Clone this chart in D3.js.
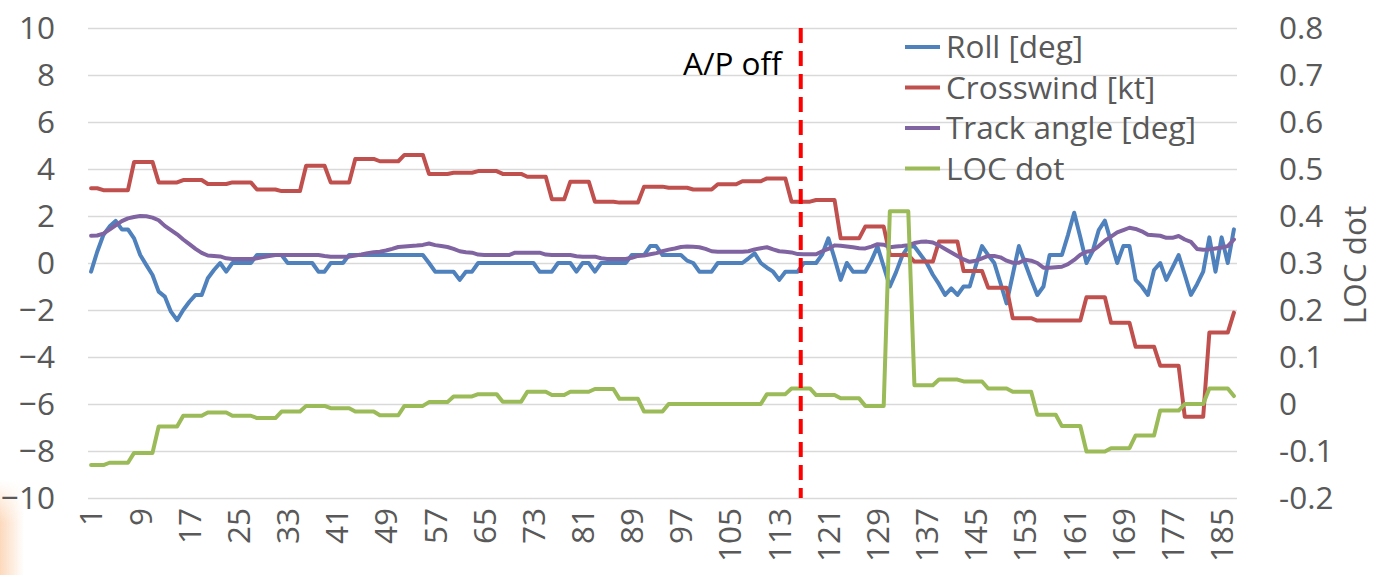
<!DOCTYPE html>
<html>
<head>
<meta charset="utf-8">
<script src="https://cdn.jsdelivr.net/npm/d3@7"></script>
<style>
  body { margin: 0; background: #fff; }
  svg { display: block; }
  text { font-family: "Open Sans", "Liberation Sans", sans-serif; }
</style>
</head>
<body>
<svg id="chart" width="1374" height="575"></svg>
<script>
// Roll angle [deg], one value per sample
const roll = [
  -0.37, 0.48, 1.19, 1.55, 1.79, 1.43, 1.43, 1.05, 0.34, -0.09,
  -0.51, -1.22, -1.43, -2.07, -2.43, -2.0, -1.65, -1.36, -1.36, -0.65,
  -0.3, 0, -0.37, 0, 0, 0, 0, 0.34, 0.34, 0.34,
  0.34, 0.34, 0, 0, 0, 0, 0, -0.37, -0.37, 0,
  0, 0, 0.34, 0.34, 0.34, 0.34, 0.34, 0.34, 0.34, 0.34,
  0.34, 0.34, 0.34, 0.34, 0.34, 0, -0.37, -0.37, -0.37, -0.37,
  -0.72, -0.37, -0.37, 0, 0, 0, 0, 0, 0, 0,
  0, 0, 0, -0.37, -0.37, -0.37, 0, 0, 0, -0.37,
  0, 0, -0.37, 0, 0, 0, 0, 0, 0.34, 0.34,
  0.34, 0.72, 0.72, 0.34, 0.34, 0.34, 0.34, 0.1, 0, -0.37,
  -0.37, -0.37, 0, 0, 0, 0, 0, 0.2, 0.41, 0,
  -0.2, -0.37, -0.72, -0.37, -0.37, -0.37, 0, 0, 0, 0.37,
  1.05, 0.2, -0.72, 0, -0.37, -0.37, -0.37, 0.1, 0.7, -0.15,
  -1.0, -0.4, 0.3, 0.7, 0.7, 0.35, 0, -0.5, -0.9, -1.36,
  -1.08, -1.36, -1.0, -1.0, -0.1, 0.72, 0.34, 0, -0.85, -1.72,
  -0.5, 0.72, 0, -0.7, -1.36, -1.0, 0.34, 0.34, 0.34, 1.2,
  2.14, 1.1, 0, 0.5, 1.4, 1.8, 0.9, 0, 0.72, 0.72,
  -0.72, -1.0, -1.36, -0.3, 0, -0.72, -0.2, 0.34, -0.5, -1.36,
  -0.9, -0.37, 1.09, -0.37, 1.09, 0, 1.43
];

// Crosswind [kt]
const crosswind = [
  3.18, 3.18, 3.1, 3.1, 3.1, 3.1, 3.1, 4.3, 4.3, 4.3,
  4.3, 3.43, 3.43, 3.43, 3.43, 3.53, 3.53, 3.53, 3.53, 3.36,
  3.36, 3.36, 3.36, 3.43, 3.43, 3.43, 3.43, 3.13, 3.13, 3.13,
  3.13, 3.06, 3.06, 3.06, 3.06, 4.14, 4.14, 4.14, 4.14, 3.43,
  3.43, 3.43, 3.43, 4.43, 4.43, 4.43, 4.43, 4.33, 4.33, 4.33,
  4.33, 4.6, 4.6, 4.6, 4.6, 3.79, 3.79, 3.79, 3.79, 3.84,
  3.84, 3.84, 3.84, 3.91, 3.91, 3.91, 3.91, 3.79, 3.79, 3.79,
  3.79, 3.67, 3.67, 3.67, 3.67, 2.71, 2.71, 2.71, 3.46, 3.46,
  3.46, 3.46, 2.61, 2.61, 2.61, 2.61, 2.57, 2.57, 2.57, 2.57,
  3.25, 3.25, 3.25, 3.25, 3.2, 3.2, 3.2, 3.2, 3.13, 3.13,
  3.13, 3.13, 3.35, 3.35, 3.35, 3.35, 3.48, 3.48, 3.48, 3.48,
  3.6, 3.6, 3.6, 3.6, 2.61, 2.61, 2.61, 2.61, 2.68, 2.68,
  2.68, 2.68, 1.05, 1.05, 1.05, 1.05, 1.55, 1.55, 1.55, 1.55,
  0.34, 0.34, 0.34, 0.34, 0.06, 0.06, 0.06, 0.06, 0.91, 0.91,
  0.91, 0.91, -0.34, -0.34, -0.34, -0.34, -1.05, -1.05, -1.05, -1.05,
  -2.35, -2.35, -2.35, -2.35, -2.45, -2.45, -2.45, -2.45, -2.45, -2.45,
  -2.45, -2.45, -1.46, -1.46, -1.46, -1.46, -2.54, -2.54, -2.54, -2.54,
  -3.56, -3.56, -3.56, -3.56, -4.37, -4.37, -4.37, -4.37, -6.54, -6.54,
  -6.54, -6.54, -2.96, -2.96, -2.96, -2.96, -2.11
];

// Track angle [deg]
const trackAngle = [
  1.16, 1.17, 1.25, 1.42, 1.6, 1.78, 1.9, 1.96, 2.0, 1.99,
  1.93, 1.82, 1.58, 1.4, 1.22, 1.0, 0.8, 0.6, 0.43, 0.32,
  0.3, 0.28, 0.2, 0.17, 0.17, 0.17, 0.17, 0.2, 0.25, 0.3,
  0.34, 0.34, 0.34, 0.34, 0.34, 0.34, 0.34, 0.34, 0.3, 0.27,
  0.27, 0.27, 0.27, 0.32, 0.36, 0.42, 0.46, 0.48, 0.53, 0.6,
  0.68, 0.7, 0.72, 0.74, 0.77, 0.83, 0.76, 0.72, 0.68, 0.6,
  0.5, 0.46, 0.44, 0.36, 0.34, 0.34, 0.34, 0.34, 0.34, 0.44,
  0.44, 0.44, 0.44, 0.44, 0.36, 0.34, 0.34, 0.34, 0.34, 0.29,
  0.27, 0.27, 0.27, 0.2, 0.17, 0.17, 0.17, 0.17, 0.22, 0.3,
  0.32, 0.37, 0.42, 0.5, 0.57, 0.62, 0.68, 0.7, 0.69, 0.67,
  0.6, 0.5, 0.48, 0.48, 0.48, 0.48, 0.48, 0.5, 0.58, 0.63,
  0.67, 0.58, 0.5, 0.48, 0.45, 0.38, 0.37, 0.37, 0.37, 0.5,
  0.6, 0.75, 0.73, 0.7, 0.67, 0.63, 0.62, 0.7, 0.8, 0.78,
  0.67, 0.7, 0.72, 0.76, 0.85, 0.9, 0.91, 0.87, 0.75, 0.6,
  0.45, 0.3, 0.15, 0.05, 0.1, 0.2, 0.3, 0.3, 0.24, 0.1,
  0.01, 0.01, 0.14, 0.1, 0.0, -0.2, -0.2, -0.18, -0.16, -0.05,
  0.13, 0.35, 0.48, 0.52, 0.72, 0.95, 1.12, 1.3, 1.4, 1.5,
  1.45, 1.35, 1.2, 1.18, 1.16, 1.07, 1.07, 1.15, 1.0, 0.9,
  0.6, 0.56, 0.58, 0.62, 0.66, 0.72, 1.0
];

// Localizer deviation [dot], plotted on the secondary axis
const locDot = [
  -0.13, -0.13, -0.13, -0.125, -0.125, -0.125, -0.125, -0.104, -0.104, -0.104,
  -0.104, -0.048, -0.048, -0.048, -0.048, -0.025, -0.025, -0.025, -0.025, -0.018,
  -0.018, -0.018, -0.018, -0.025, -0.025, -0.025, -0.025, -0.03, -0.03, -0.03,
  -0.03, -0.016, -0.016, -0.016, -0.016, -0.004, -0.004, -0.004, -0.004, -0.009,
  -0.009, -0.009, -0.009, -0.016, -0.016, -0.016, -0.016, -0.024, -0.024, -0.024,
  -0.024, -0.004, -0.004, -0.004, -0.004, 0.004, 0.004, 0.004, 0.004, 0.016,
  0.016, 0.016, 0.016, 0.021, 0.021, 0.021, 0.021, 0.005, 0.005, 0.005,
  0.005, 0.026, 0.026, 0.026, 0.026, 0.019, 0.019, 0.019, 0.026, 0.026,
  0.026, 0.026, 0.032, 0.032, 0.032, 0.032, 0.011, 0.011, 0.011, 0.011,
  -0.016, -0.016, -0.016, -0.016, 0, 0, 0, 0, 0, 0,
  0, 0, 0, 0, 0, 0, 0, 0, 0, 0,
  0.021, 0.021, 0.021, 0.021, 0.033, 0.033, 0.033, 0.033, 0.019, 0.019,
  0.019, 0.019, 0.012, 0.012, 0.012, 0.012, -0.004, -0.004, -0.004, -0.004,
  0.41, 0.41, 0.41, 0.41, 0.04, 0.04, 0.04, 0.04, 0.052, 0.052,
  0.052, 0.052, 0.048, 0.048, 0.048, 0.048, 0.033, 0.033, 0.033, 0.033,
  0.026, 0.026, 0.026, 0.026, -0.023, -0.023, -0.023, -0.023, -0.047, -0.047,
  -0.047, -0.047, -0.101, -0.101, -0.101, -0.101, -0.094, -0.094, -0.094, -0.094,
  -0.067, -0.067, -0.067, -0.067, -0.014, -0.014, -0.014, -0.014, 0, 0,
  0, 0, 0.033, 0.033, 0.033, 0.033, 0.017
];

// Sample numbers along the x axis
const samples = d3.range(1, roll.length + 1);
const sampleTicks = [1, 9, 17, 25, 33, 41, 49, 57, 65, 73, 81, 89, 97, 105, 113, 121, 129, 137, 145, 153, 161, 169, 177, 185];
const leftTicks = [-10, -8, -6, -4, -2, 0, 2, 4, 6, 8, 10];
const rightTicks = [-0.2, -0.1, 0, 0.1, 0.2, 0.3, 0.4, 0.5, 0.6, 0.7, 0.8];
const rightTickLabels = ["-0.2", "-0.1", "0", "0.1", "0.2", "0.3", "0.4", "0.5", "0.6", "0.7", "0.8"];

// Autopilot disconnect marker, in sample units
const apOffSample = 116.5;
const apOffLabel = "A/P off";

const series = [
  { name: "Roll [deg]", values: roll, axis: "left", color: "#4f81bd" },
  { name: "Crosswind [kt]", values: crosswind, axis: "left", color: "#c0504d" },
  { name: "Track angle [deg]", values: trackAngle, axis: "left", color: "#8064a2" },
  { name: "LOC dot", values: locDot, axis: "right", color: "#9bbb59" }
];

const svg = d3.select("#chart");
const plot = { left: 88, right: 1237, top: 28, bottom: 498 };
const textColor = "#595959";
const fontSize = 31.5;
const lineWidth = 4;

// Soft peach corner from the slide background
const defs = svg.append("defs");
const gradH = defs.append("linearGradient").attr("id", "cornerH").attr("x1", 0).attr("x2", 1).attr("y1", 0).attr("y2", 0);
gradH.append("stop").attr("offset", "0%").attr("stop-color", "#fcd9bc");
gradH.append("stop").attr("offset", "100%").attr("stop-color", "#fcd9bc").attr("stop-opacity", 0);
const gradV = defs.append("linearGradient").attr("id", "cornerV").attr("x1", 0).attr("x2", 0).attr("y1", 0).attr("y2", 1);
gradV.append("stop").attr("offset", "0%").attr("stop-color", "#fff").attr("stop-opacity", 0);
gradV.append("stop").attr("offset", "45%").attr("stop-color", "#fff").attr("stop-opacity", 1);
gradV.append("stop").attr("offset", "100%").attr("stop-color", "#fff").attr("stop-opacity", 1);
defs.append("mask").attr("id", "cornerMask")
  .append("rect").attr("x", 0).attr("y", 480).attr("width", 24).attr("height", 95).attr("fill", "url(#cornerV)");
svg.append("rect").attr("x", 0).attr("y", 480).attr("width", 24).attr("height", 95)
  .attr("fill", "url(#cornerH)").attr("mask", "url(#cornerMask)");

const x = d3.scaleBand().domain(samples).range([plot.left, plot.right]).padding(0);
const xc = d => x(d) + x.bandwidth() / 2;
const yL = d3.scaleLinear().domain([-10, 10]).range([plot.bottom, plot.top]);
const yR = d3.scaleLinear().domain([-0.2, 0.8]).range([plot.bottom, plot.top]);

// Horizontal gridlines
const grid = svg.append("g")
  .attr("transform", `translate(${plot.left},0)`)
  .call(d3.axisLeft(yL).tickValues(leftTicks).tickSize(-(plot.right - plot.left)).tickFormat(""));
grid.select(".domain").remove();
grid.selectAll("line").attr("stroke", "#d9d9d9").attr("stroke-width", 1.3);

// Left value axis
const leftAxis = svg.append("g")
  .attr("transform", `translate(${plot.left},0)`)
  .call(d3.axisLeft(yL).tickValues(leftTicks).tickSize(0).tickPadding(33).tickFormat(d3.format("d")));
leftAxis.select(".domain").remove();
leftAxis.selectAll("text").attr("fill", textColor).style("font-size", fontSize + "px");

// Right value axis (LOC dot)
const rightAxis = svg.append("g")
  .attr("transform", `translate(${plot.right},0)`)
  .call(d3.axisRight(yR).tickValues(rightTicks).tickSize(0).tickPadding(42)
    .tickFormat((d, i) => rightTickLabels[i]));
rightAxis.select(".domain").remove();
rightAxis.selectAll("text").attr("fill", textColor).style("font-size", fontSize + "px");

// Category axis with vertical labels
const bottomAxis = svg.append("g")
  .attr("transform", `translate(0,${plot.bottom})`)
  .call(d3.axisBottom(x).tickValues(sampleTicks).tickSize(0));
bottomAxis.select(".domain").remove();
bottomAxis.selectAll("text")
  .attr("fill", textColor)
  .style("font-size", fontSize + "px")
  .attr("transform", "rotate(-90)")
  .attr("x", -10)
  .attr("y", 0)
  .attr("dy", "0.36em")
  .style("text-anchor", "end");

// Right axis title
svg.append("text")
  .attr("transform", `translate(1366,265) rotate(-90)`)
  .attr("text-anchor", "middle")
  .attr("fill", textColor)
  .style("font-size", fontSize + "px")
  .text("LOC dot");

// Data lines
const lineFor = s => d3.line()
  .x((d, i) => xc(samples[i]))
  .y(d => (s.axis === "left" ? yL(d) : yR(d)));

svg.append("g").selectAll("path")
  .data(series)
  .join("path")
  .attr("d", s => lineFor(s)(s.values))
  .attr("fill", "none")
  .attr("stroke", s => s.color)
  .attr("stroke-width", lineWidth)
  .attr("stroke-linejoin", "round")
  .attr("stroke-linecap", "round");

// Autopilot disconnect marker
const apX = plot.left + (apOffSample - 0.5) * x.bandwidth();
svg.append("line")
  .attr("x1", apX).attr("x2", apX)
  .attr("y1", plot.top).attr("y2", plot.bottom)
  .attr("stroke", "#ff0000")
  .attr("stroke-width", lineWidth)
  .attr("stroke-dasharray", "15,8");
svg.append("text")
  .attr("x", apX - 19).attr("y", 75)
  .attr("text-anchor", "end")
  .attr("fill", "#000")
  .style("font-size", fontSize + "px")
  .text(apOffLabel);

// Legend
const legend = svg.append("g").selectAll("g")
  .data(series)
  .join("g")
  .attr("transform", (d, i) => `translate(905,${47 + i * 40.5})`);
legend.append("line")
  .attr("x1", 0).attr("x2", 35)
  .attr("stroke", d => d.color)
  .attr("stroke-width", lineWidth);
legend.append("text")
  .attr("x", 41).attr("dy", "0.35em")
  .attr("fill", textColor)
  .style("font-size", fontSize + "px")
  .text(d => d.name);
</script>
</body>
</html>
